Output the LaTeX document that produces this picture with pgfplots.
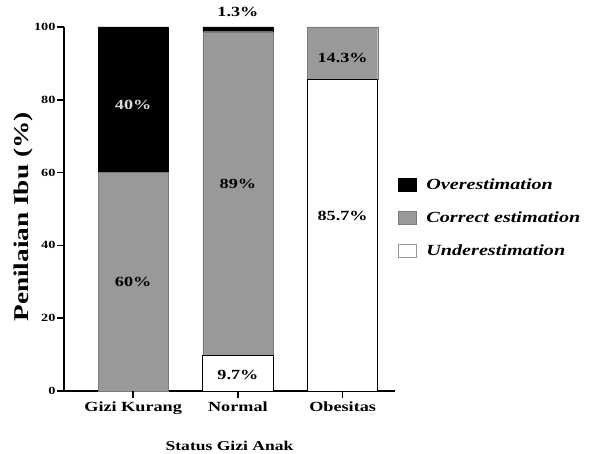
\documentclass[border=0pt]{standalone}
\usepackage{fontspec}
\setmainfont{Liberation Serif}[FakeStretch=1.3]
\usepackage{pgfplots}
\pgfplotsset{compat=1.18}
\definecolor{midgray}{RGB}{153,153,153}

\begin{document}
\begin{tikzpicture}
\useasboundingbox (-64pt,-63pt) rectangle (525pt,391pt);
\begin{axis}[
    scale only axis,
    width=331pt, height=364pt,
    at={(0,0)}, anchor=south west,
    ybar stacked,
    bar width=0.67,
    xmin=-0.66, xmax=2.5,
    ymin=0, ymax=100,
    xtick={0,1,2},
    xticklabels={Gizi Kurang, Normal, Obesitas},
    ytick={0,20,40,60,80,100},
    yticklabels={0,20,40,60,80,100},
    axis x line=bottom, axis y line=left,
    axis line style={black, line width=1.4pt, -},
    xtick pos=bottom, ytick pos=left,
    major tick length=0pt,
    yticklabel style={font=\bfseries\fontsize{11}{12}\selectfont, xshift=-5pt},
    xticklabel style={font=\bfseries\fontsize{14}{15}\selectfont, yshift=-7pt},
    xlabel={Status Gizi Anak},
    ylabel={Penilaian Ibu (\%)},
    xlabel style={font=\bfseries\fontsize{13.5}{14}\selectfont, yshift=-20pt},
    ylabel style={font=\bfseries\fontsize{21}{22}\selectfont, yshift=-6pt, xshift=-8pt},
    clip=false,
    legend style={draw=none, fill=none, at={(1.0,0.475)}, anchor=west,
        font=\bfseries\itshape\fontsize{15.5}{16}\selectfont, row sep=17pt,
        /tikz/every odd column/.style={inner xsep=0pt}},
    legend cell align=left,
    legend image code/.code={\draw[#1] (0pt,-6pt) rectangle (18pt,7pt);
        \path[draw=none, fill=none] (18pt,0pt) -- (26pt,0pt);},
]
\addlegendimage{fill=black, draw=black}
\addlegendimage{fill=midgray, draw=midgray!80!black}
\addlegendimage{fill=white, draw=black!40}
% stacked bottom to top: under, correct, over
\addplot[fill=white, draw=black, line width=0.6pt, forget plot] coordinates {(0,0) (1,9.7) (2,85.7)};
\addplot[fill=midgray, draw=midgray!80!black, line width=0.4pt, forget plot] coordinates {(0,60) (1,89) (2,14.3)};
\addplot[fill=black, draw=black, line width=0.4pt, forget plot] coordinates {(0,40) (1,1.3) (2,0)};
\legend{Overestimation, Correct estimation, Underestimation}

\pgfplotsinvokeforeach{0,20,40,60,80,100}{\coordinate (ty#1) at (axis cs:-0.66,#1);}
\pgfplotsinvokeforeach{0,1,2}{\coordinate (tx#1) at (axis cs:#1,0);}
\coordinate (l1) at (axis cs:0,78.5);
\coordinate (l2) at (axis cs:0,30);
\coordinate (l3) at (axis cs:1,57);
\coordinate (l4) at (axis cs:1,4.5);
\coordinate (l5) at (axis cs:1,104);
\coordinate (l6) at (axis cs:2,91.5);
\coordinate (l7) at (axis cs:2,48);
\end{axis}
% tick marks
\foreach \t in {0,20,40,60,80,100} \draw[black, line width=1.5pt] (ty\t) -- ++(-7pt,0);
\foreach \t in {0,1,2} \draw[black, line width=1.5pt] (tx\t) -- ++(0,-7pt);
\begin{scope}[every node/.style={font=\bfseries\fontsize{14}{15}\selectfont}]
\node[text=black!15] at (l1) {40\%};
\node at (l2) {60\%};
\node at (l3) {89\%};
\node at (l4) {9.7\%};
\node at (l5) {1.3\%};
\node at (l6) {14.3\%};
\node at (l7) {85.7\%};
\end{scope}
\end{tikzpicture}
\end{document}
